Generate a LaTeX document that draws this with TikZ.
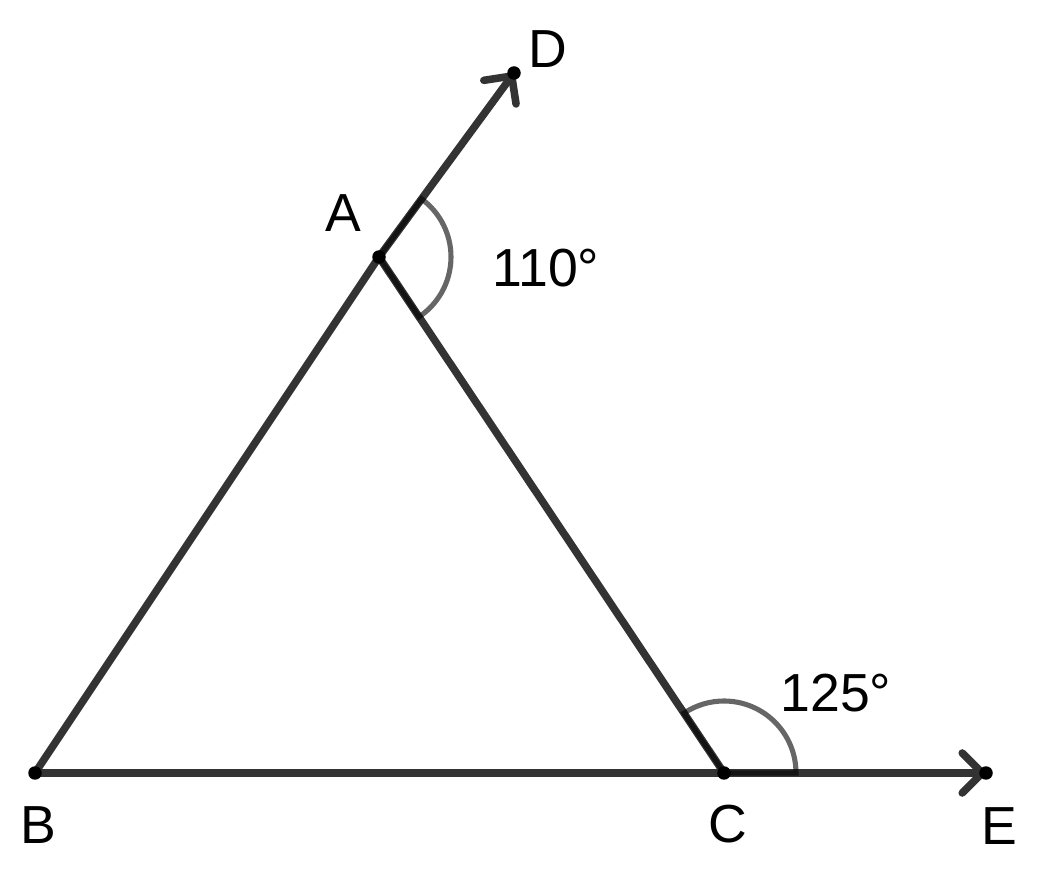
\documentclass[tikz,border=0pt]{standalone}
\usepackage{fontspec}
\setmainfont{Liberation Sans}
\usetikzlibrary{arrows.meta}
\definecolor{segcol}{RGB}{51,51,51}
\tikzset{
    seg/.style={
        draw=segcol,
        line width=4.3pt,
        line cap=round},
    ray/.style={
        seg,
        -{Straight Barb[length=4mm,width=8mm,round]}},
    sector/.style={
        draw=black,
        draw opacity=0.6,
        line width=2.9pt},
    pt/.style={
        circle,
        fill=black,
        inner sep=0pt,
        minimum size=2.7mm},
    lbl/.style={
        inner sep=0pt,
        font=\fontsize{30.5}{36}\selectfont}}

\begin{document}
\begin{tikzpicture}[x=0.02cm,y=0.02cm]
        \useasboundingbox (0,0) rectangle (1046,870);

        % points
        \coordinate (A) at (379,613);
        \coordinate (B) at (35,97);
        \coordinate (C) at (724,97);
        \coordinate (D) at (514,797);
        \coordinate (E) at (986,97);

        % sides and rays
        \draw[seg] (B) -- (A);
        \draw[seg] (A) -- (C);
        \draw[seg] (B) -- (C);
        \draw[ray] (A) -- (D);
        \draw[ray] (C) -- (E);

        % angles
        \draw[sector] (A) -- ++(-56.23:72) arc[start angle=-56.23, end angle=53.73, radius=72] -- cycle;
        \draw[sector] (C) -- ++(0:72) arc[start angle=0, end angle=123.77, radius=72] -- cycle;

        \foreach \p in {A,B,C,D,E}
            \node[pt] (dot\p) at (\p) {};

        % labels
        \node[lbl] (lA) at (343,657) {A};
        \node[lbl] (lB) at (38,45) {B};
        \node[lbl] (lC) at (728,46) {C};
        \node[lbl] (lD) at (548,821) {D};
        \node[lbl] (lE) at (999,44) {E};
        \node[lbl] (aA) at (546,602) {110°};
        \node[lbl] (aC) at (836,177) {125°};
    \end{tikzpicture}
\end{document}
